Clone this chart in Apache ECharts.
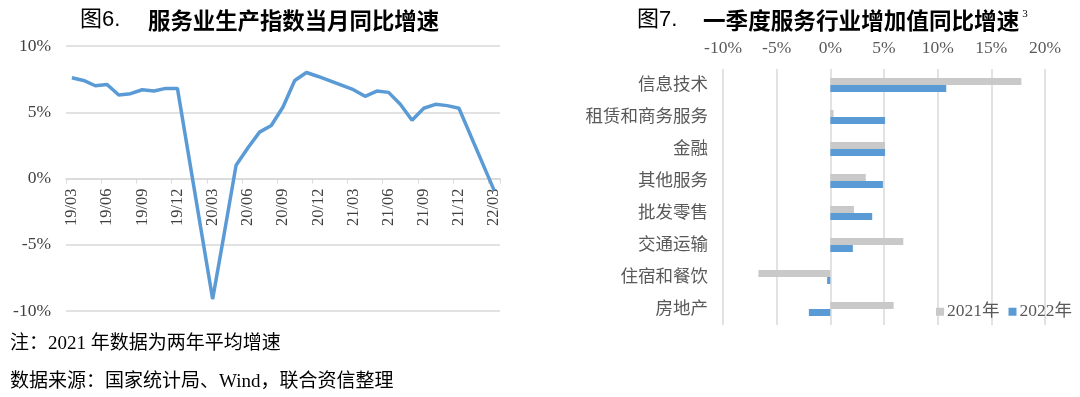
<!DOCTYPE html>
<html>
<head>
<meta charset="utf-8">
<script src="https://cdn.jsdelivr.net/npm/echarts@6/dist/echarts.min.js"></script>
<style>
  html, body { margin: 0; padding: 0; background: #fff; }
  #chart { width: 1080px; height: 397px; }
</style>
</head>
<body>
<div id="chart"></div>
<script>
// 图6 服务业生产指数当月同比增速（%）
const months = [
  '19/03','19/04','19/05','19/06','19/07','19/08','19/09','19/10','19/11','19/12',
  '20/01','20/02','20/03','20/04','20/05','20/06','20/07','20/08','20/09','20/10','20/11','20/12',
  '21/01','21/02','21/03','21/04','21/05','21/06','21/07','21/08','21/09','21/10','21/11','21/12',
  '22/01','22/02','22/03'
];
const growth = [
  7.6, 7.4, 7.0, 7.1, 6.3, 6.4, 6.7, 6.6, 6.8, 6.8,
  null, null, -9.1, -4.1, 1.0, 2.3, 3.5, 4.0, 5.4, 7.4, 8.0, 7.7,
  null, null, 6.7, 6.2, 6.6, 6.5, 5.6, 4.4, 5.3, 5.6, 5.5, 5.3,
  null, null, -0.9
];

// 图7 一季度服务行业增加值同比增速（%）
const industries = ['信息技术', '租赁和商务服务', '金融', '其他服务', '批发零售', '交通运输', '住宿和餐饮', '房地产'];
const y2021 = [17.8, 0.3, 5.1, 3.3, 2.2, 6.8, -6.7, 5.9];
const y2022 = [10.8, 5.1, 5.1, 4.9, 3.9, 2.1, -0.3, -2.0];

const serif = "'Liberation Serif', 'Times New Roman', 'Noto Sans CJK SC', serif";
const labelColor = '#595959';
const gridColor = '#d9d9d9';

const chart = echarts.init(document.getElementById('chart'));

chart.setOption({
  animation: false,
  title: [
    {
      text: '{a|图6.}{b|服务业生产指数当月同比增速}',
      left: 80, top: 9, padding: 0,
      textStyle: {
        rich: {
          a: { fontSize: 22, fontWeight: 'normal', fontFamily: "'Liberation Sans', 'Noto Sans CJK SC', sans-serif", color: '#000', width: 68 },
          b: { fontSize: 22.4, fontWeight: 'bold', fontFamily: "'Noto Sans CJK SC', sans-serif", color: '#000' }
        }
      }
    },
    {
      text: '{a|图7.}{b|一季度服务行业增加值同比增速}{s|3}',
      left: 637, top: 9, padding: 0,
      textStyle: {
        rich: {
          a: { fontSize: 22, fontWeight: 'normal', fontFamily: "'Liberation Sans', 'Noto Sans CJK SC', sans-serif", color: '#000', width: 66 },
          b: { fontSize: 22.6, fontWeight: 'bold', fontFamily: "'Noto Sans CJK SC', sans-serif", color: '#000' },
          s: { fontSize: 11, fontWeight: 'normal', fontFamily: serif, color: '#000', verticalAlign: 'top', padding: [0, 0, 10, 3] }
        }
      }
    },
    {
      text: '注：2021 年数据为两年平均增速',
      left: 10, top: 335, padding: 0,
      textStyle: { fontSize: 19, fontWeight: 'normal', fontFamily: serif, color: '#000' }
    },
    {
      text: '数据来源：国家统计局、Wind，联合资信整理',
      left: 10, top: 373, padding: 0,
      textStyle: { fontSize: 19, fontWeight: 'normal', fontFamily: serif, color: '#000' }
    }
  ],
  legend: {
    data: ['2021年', '2022年'],
    left: 931, top: 298,
    icon: 'rect',
    itemWidth: 8, itemHeight: 8, itemGap: 9,
    textStyle: { fontSize: 17.5, fontFamily: serif, color: labelColor, padding: [0, 0, 0, -2] }
  },
  grid: [
    { left: 66, top: 46, width: 434, height: 265 },
    { left: 723, top: 69, width: 322, height: 256 }
  ],
  xAxis: [
    {
      gridIndex: 0,
      type: 'category',
      data: months,
      boundaryGap: true,
      position: 'bottom',
      offset: -132.5,
      axisLine: { onZero: false, lineStyle: { color: gridColor, width: 1.5 } },
      axisTick: { show: true, interval: 2, length: 5, lineStyle: { color: gridColor } },
      axisLabel: { interval: 2, rotate: 90, margin: 10, fontSize: 16.5, fontFamily: serif, color: '#404040' },
      splitLine: { show: false }
    },
    {
      gridIndex: 1,
      type: 'value',
      position: 'top',
      min: -10, max: 20, interval: 5,
      axisLine: { show: false },
      axisTick: { show: false },
      axisLabel: { formatter: '{value}%', margin: 12, fontSize: 17.5, fontFamily: serif, color: labelColor },
      splitLine: { lineStyle: { color: gridColor, width: 1.5 } }
    }
  ],
  yAxis: [
    {
      gridIndex: 0,
      type: 'value',
      min: -10, max: 10, interval: 5,
      axisLine: { show: false },
      axisTick: { show: false },
      axisLabel: { formatter: '{value}%', margin: 15, fontSize: 17.5, fontFamily: serif, color: '#404040' },
      splitLine: { lineStyle: { color: gridColor, width: 1.5 } }
    },
    {
      gridIndex: 1,
      type: 'category',
      data: industries,
      inverse: true,
      axisLine: { show: false },
      axisTick: { show: false },
      axisLabel: { margin: 15, fontSize: 17.5, fontFamily: serif, color: labelColor },
      splitLine: { show: false }
    }
  ],
  series: [
    {
      name: '服务业生产指数',
      type: 'line',
      xAxisIndex: 0, yAxisIndex: 0,
      data: growth,
      connectNulls: true,
      showSymbol: false,
      lineStyle: { color: '#5B9BD5', width: 3.5 },
      itemStyle: { color: '#5B9BD5' }
    },
    {
      name: '2021年',
      type: 'bar',
      xAxisIndex: 1, yAxisIndex: 1,
      data: y2021,
      barWidth: 7,
      barGap: '0%',
      itemStyle: { color: '#C9C9C9' }
    },
    {
      name: '2022年',
      type: 'bar',
      xAxisIndex: 1, yAxisIndex: 1,
      data: y2022,
      barWidth: 7,
      barGap: '0%',
      itemStyle: { color: '#5B9BD5' }
    }
  ]
});

window.addEventListener('resize', () => {
  chart.resize();
});
</script>
</body>
</html>
